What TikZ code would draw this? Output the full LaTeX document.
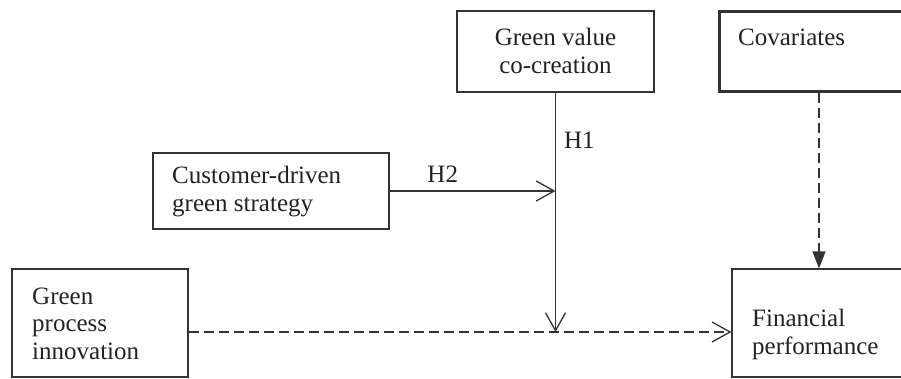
\documentclass[tikz,border=0pt]{standalone}
\usepackage{fontspec}
\setmainfont{Liberation Serif}
\usetikzlibrary{arrows.meta}
\definecolor{linegray}{HTML}{333333}
\definecolor{txtgray}{HTML}{222222}
\begin{document}
\begin{tikzpicture}[x=1pt, y=-1pt,
	box/.style={draw=linegray, line width=1.3pt, inner sep=0pt},
	lbl/.style={inner sep=0pt, text=txtgray, font=\fontsize{25}{27.5}\selectfont, align=left},
	link/.style={draw=linegray, line width=1.3pt, -{Straight Barb[length=18pt,width=20pt]}},
	dashlink/.style={link, dash pattern=on 10pt off 5pt}]
	\useasboundingbox (0,0) rectangle (901,378);
	\clip (0,0) rectangle (901,378);
	
	%boxes (text nodes sit on the baseline of their last line)
	\node[box, minimum width=197pt, minimum height=81pt] (gvc) at (555.5,51.5) {};
	\node[lbl, anchor=base, align=center] (gvctxt) at (555.5,73) {Green value\\co-creation};
	
	\node[box, line width=3pt, minimum width=200pt, minimum height=80pt] (cov) at (819,51) {};
	\node[lbl, anchor=base west] (covtxt) at (738,45) {Covariates};
	
	\node[box, minimum width=236pt, minimum height=76pt] (cust) at (271,191) {};
	\node[lbl, anchor=base west] (custtxt) at (172,211) {Customer-driven\\green strategy};
	
	\node[box, minimum width=176pt, minimum height=108pt] (gpi) at (100,323) {};
	\node[lbl, anchor=base west] (gpitxt) at (32,359) {Green\\process\\innovation};
	
	\node[box, minimum width=174pt, minimum height=108pt] (fin) at (819,323) {};
	\node[lbl, anchor=base west] (fintxt) at (752,354) {Financial\\performance};
	
	%arrows
	\coordinate (meet) at (gvc.south |- 0,332);
	\coordinate (h2end) at (gvc.south |- cust.east);
	\draw[link] (gvc) -- (meet) node[lbl, pos=0.2, right=8pt] (h1) {H1};
	\draw[link] (cust) -- (h2end) node[lbl, pos=0.32, above=8pt] (h2) {H2};
	\draw[dashlink] (gpi.east |- meet) -- (fin.west |- meet);
	\draw[dashlink, -{Triangle[length=17pt,width=13pt]}] (cov) -- (fin);
\end{tikzpicture}
\end{document}
